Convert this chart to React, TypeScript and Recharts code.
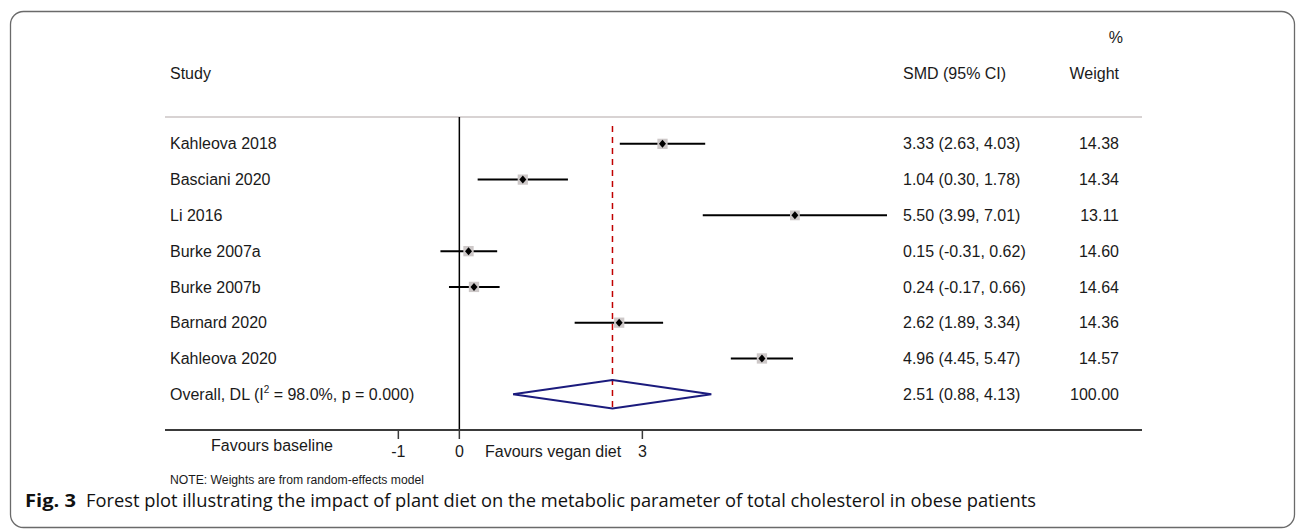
import { ComposedChart, ErrorBar, ReferenceLine, Scatter, XAxis, YAxis } from "recharts";

// study rows, top to bottom
const STUDIES = [
  "Kahleova 2018",
  "Basciani 2020",
  "Li 2016",
  "Burke 2007a",
  "Burke 2007b",
  "Barnard 2020",
  "Kahleova 2020",
];
const SMD = [3.33, 1.04, 5.5, 0.15, 0.24, 2.62, 4.96];
const CI_LO = [2.63, 0.3, 3.99, -0.31, -0.17, 1.89, 4.45];
const CI_HI = [4.03, 1.78, 7.01, 0.62, 0.66, 3.34, 5.47];
const WEIGHTS = [14.38, 14.34, 13.11, 14.6, 14.64, 14.36, 14.57];

// pooled estimate (DerSimonian-Laird)
const OVERALL_LABEL = "Overall, DL";
const OVERALL_I2 = 98.0;
const OVERALL_P = 0.0;
const OVERALL_SMD = 2.51;
const OVERALL_LO = 0.88;
const OVERALL_HI = 4.13;
const OVERALL_WEIGHT = 100.0;

const X_TICKS = [-1, 0, 3];
const X_DOMAIN: [number, number] = [-4.825, 11.19];

const FONT = '"Liberation Sans", Arial, Helvetica, sans-serif';
const TEXT = "#1a1a1a";

const studyRows = STUDIES.map((study, i) => ({
  row: i + 1,
  study,
  smd: SMD[i],
  lo: CI_LO[i],
  hi: CI_HI[i],
  weight: WEIGHTS[i],
  err: [SMD[i] - CI_LO[i], CI_HI[i] - SMD[i]],
}));
const OVERALL_ROW = STUDIES.length + 1;
const ROW_TICKS = Array.from({ length: OVERALL_ROW }, (_, i) => i + 1);

const DIAMOND_HALF = 0.4;
const diamond = [
  { smd: OVERALL_LO, row: OVERALL_ROW },
  { smd: OVERALL_SMD, row: OVERALL_ROW - DIAMOND_HALF },
  { smd: OVERALL_HI, row: OVERALL_ROW },
  { smd: OVERALL_SMD, row: OVERALL_ROW + DIAMOND_HALF },
  { smd: OVERALL_LO, row: OVERALL_ROW },
];

const fmtCI = (m: number, lo: number, hi: number) =>
  `${m.toFixed(2)} (${lo.toFixed(2)}, ${hi.toFixed(2)})`;

function RowTick(props: any) {
  const { y, payload } = props;
  const r = Number(payload?.value);
  if (!r || r < 1 || r > OVERALL_ROW) return <g />;
  const isOverall = r === OVERALL_ROW;
  const i = r - 1;
  const ci = isOverall ? fmtCI(OVERALL_SMD, OVERALL_LO, OVERALL_HI) : fmtCI(SMD[i], CI_LO[i], CI_HI[i]);
  const w = isOverall ? OVERALL_WEIGHT : WEIGHTS[i];
  return (
    <g fontFamily={FONT} fontSize={16} fill={TEXT}>
      {isOverall ? (
        <text x={170} y={y} dy="0.35em" fill={TEXT}>
          <tspan>{`${OVERALL_LABEL} (I`}</tspan>
          <tspan dy={-7} fontSize={10}>2</tspan>
          <tspan dy={7}>{` = ${OVERALL_I2.toFixed(1)}%, p = ${OVERALL_P.toFixed(3)})`}</tspan>
        </text>
      ) : (
        <text x={170} y={y} dy="0.35em" fill={TEXT}>{STUDIES[i]}</text>
      )}
      <text x={903} y={y} dy="0.35em" fill={TEXT}>{ci}</text>
      <text x={1119} y={y} dy="0.35em" textAnchor="end" fill={TEXT}>{w.toFixed(2)}</text>
    </g>
  );
}

function StudyMarker(props: any) {
  const { cx, cy, payload } = props;
  const side = Math.sqrt(payload.weight) * 2.7;
  return (
    <g>
      <rect x={cx - side / 2} y={cy - side / 2} width={side} height={side} fill="#cdc8c8" />
      <polygon
        points={`${cx - 3.5},${cy} ${cx},${cy - 4} ${cx + 3.5},${cy} ${cx},${cy + 4}`}
        fill="#000"
      />
    </g>
  );
}

export default function App() {
  return (
    <div style={{ position: "absolute", left: 0, top: 0, width: 1296, height: 529, background: "#fff" }}>
      <ComposedChart
        width={1296}
        height={529}
        margin={{ top: 117, right: 154, bottom: 69, left: 164 }}
      >
        <XAxis
          type="number"
          dataKey="smd"
          domain={X_DOMAIN}
          allowDataOverflow
          ticks={X_TICKS}
          interval={0}
          height={30}
          axisLine={{ stroke: "#3a3a3a", strokeWidth: 2 }}
          tickLine={{ stroke: "#3a3a3a", strokeWidth: 1.5 }}
          tickSize={9}
          tickMargin={7}
          tick={{ fontFamily: FONT, fontSize: 16, fill: TEXT }}
        />
        <YAxis
          type="number"
          dataKey="row"
          domain={[0.25, 9]}
          reversed
          allowDataOverflow
          ticks={ROW_TICKS}
          interval={0}
          width={1}
          axisLine={false}
          tickLine={false}
          tick={(p: any) => <RowTick {...p} />}
        />
        <ReferenceLine y={0.25} stroke="#cbc4c4" strokeWidth={1.5} ifOverflow="visible" />
        <ReferenceLine x={0} stroke="#000" strokeWidth={1.5} />
        <ReferenceLine
          segment={[
            { x: OVERALL_SMD, y: 0.5 },
            { x: OVERALL_SMD, y: OVERALL_ROW + 0.45 },
          ]}
          stroke="#c00000"
          strokeWidth={1.5}
          strokeDasharray="6 5"
        />
        <Scatter data={studyRows} shape={<StudyMarker />} isAnimationActive={false}>
          <ErrorBar dataKey="err" direction="x" width={0} stroke="#000" strokeWidth={2} />
        </Scatter>
        <Scatter
          data={diamond}
          line={{ stroke: "#1b1b7d", strokeWidth: 2, fill: "none" }}
          shape={() => <g />}
          isAnimationActive={false}
        />
      </ComposedChart>
      <svg
        width={1296}
        height={529}
        style={{ position: "absolute", left: 0, top: 0, pointerEvents: "none" }}
      >
        <rect x={10.5} y={11.5} width={1284} height={516} rx={13} fill="none" stroke="#6a6a6a" strokeWidth={1.3} />
        <g fontFamily={FONT} fontSize={16} fill={TEXT}>
          <text x={1123} y={43} textAnchor="end">%</text>
          <text x={170} y={79}>Study</text>
          <text x={903} y={79}>SMD (95% CI)</text>
          <text x={1119} y={79} textAnchor="end">Weight</text>
          <text x={272} y={451} textAnchor="middle">Favours baseline</text>
          <text x={485} y={457}>Favours vegan diet</text>
        </g>
        <text x={170} y={484} fontFamily={FONT} fontSize={12} fill={TEXT} textLength={254} lengthAdjust="spacingAndGlyphs">
          NOTE: Weights are from random-effects model
        </text>
        <g fontFamily='"Open Sans", "Noto Sans", sans-serif' fontSize={18} fill="#111">
          <text x={25} y={507} fontWeight="bold" textLength={51} lengthAdjust="spacingAndGlyphs">Fig. 3</text>
          <text x={86} y={507} textLength={950} lengthAdjust="spacingAndGlyphs">
            Forest plot illustrating the impact of plant diet on the metabolic parameter of total cholesterol in obese patients
          </text>
        </g>
      </svg>
    </div>
  );
}
